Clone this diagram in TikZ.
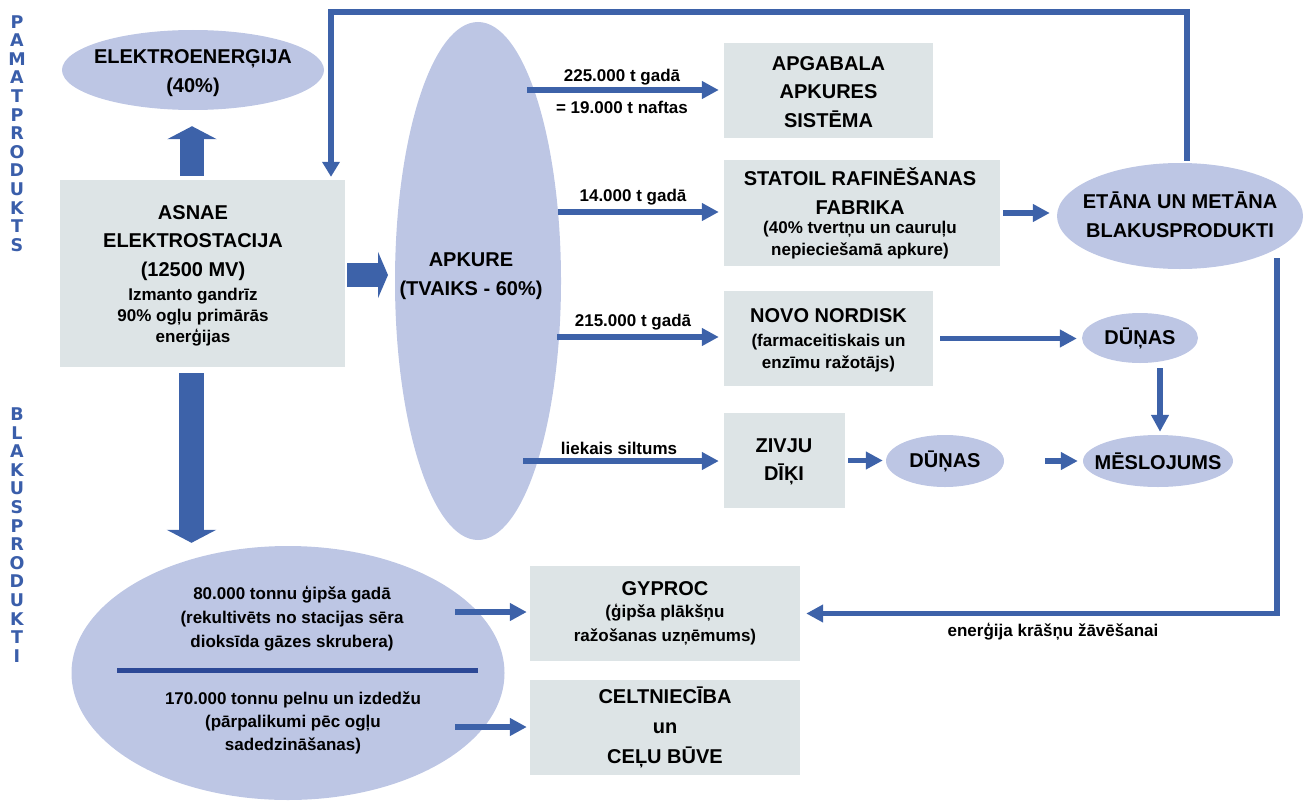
\documentclass[tikz,border=0pt]{standalone}
\usepackage{fontspec}
\setmainfont{Liberation Sans}
\newfontfamily\sidefont{DejaVu Sans}
\usetikzlibrary{shapes.geometric,arrows.meta}
\definecolor{boxfill}{HTML}{DDE4E6}
\definecolor{ovalfill}{HTML}{BDC6E4}
\definecolor{arrowblue}{HTML}{3D62A9}
\definecolor{divblue}{HTML}{2C4896}
\definecolor{sideblue}{HTML}{3A5EAA}
\begin{document}
\begin{tikzpicture}[x=1pt,y=-1pt,
  box/.style={rectangle, fill=boxfill, inner sep=0pt},
  oval/.style={ellipse, fill=ovalfill, inner sep=0pt},
  big/.style={font=\bfseries\fontsize{20}{28.5}\selectfont, align=center, inner sep=0pt},
  small/.style={font=\bfseries\fontsize{17}{22}\selectfont, align=center, inner sep=0pt},
  lbl/.style={font=\bfseries\fontsize{17}{21}\selectfont, inner sep=0pt},
  side/.style={font=\sidefont\bfseries\fontsize{17.5}{18.6}\selectfont, align=center, text=sideblue, inner sep=0pt},
  conn/.style={line width=5.5pt, draw=arrowblue, -{Triangle[length=17pt,width=17pt]}},
  blockarrow/.style={draw=arrowblue, -{Triangle[length=13pt,width=49pt]}},
]
\useasboundingbox (0,0) rectangle (1303,800);

% side labels
\node[side] (sidetop) at (17,133.5) {P\\A\\M\\A\\T\\P\\R\\O\\D\\U\\K\\T\\S};
\node[side] (sidebot) at (17,535) {B\\L\\A\\K\\U\\S\\P\\R\\O\\D\\U\\K\\T\\I};

% shapes
\node[oval, minimum width=262pt, minimum height=80pt] (elec) at (193,70) {};
\node[big] (electxt) at (193,73) {ELEKTROENERĢIJA\\(40\%)};
\node[box, minimum width=285pt, minimum height=187pt] (asnae) at (202.5,273.5) {};
\node[big] (asnaebig) at (193,243) {ASNAE\\ELEKTROSTACIJA\\(12500 MV)};
\node[small, font=\bfseries\fontsize{17}{21}\selectfont] (asnaesmall) at (193,317) {Izmanto gandrīz\\90\% ogļu primārās\\enerģijas};

\node[oval, minimum width=166pt, minimum height=518pt] (apkure) at (478,281) {};
\node[big] (apkuretxt) at (471,276) {APKURE\\(TVAIKS - 60\%)};

\node[box, minimum width=209pt, minimum height=95pt] (apgabala) at (828.5,90.5) {};
\node[big] (apgabalatxt) at (828.5,92) {APGABALA\\APKURES\\SISTĒMA};

\node[box, minimum width=276pt, minimum height=106pt] (statoil) at (862,213) {};
\node[big] (statoilbig) at (860,191) {STATOIL RAFINĒŠANAS\\FABRIKA};
\node[small] (statoilsmall) at (860,240) {(40\% tvertņu un cauruļu\\nepieciešamā apkure)};

\node[box, minimum width=209pt, minimum height=95pt] (novo) at (828.5,338.5) {};
\node[big] (novobig) at (828.5,316) {NOVO NORDISK};
\node[small] (novosmall) at (828.5,353) {(farmaceitiskais un\\enzīmu ražotājs)};

\node[box, minimum width=121pt, minimum height=95pt] (zivju) at (784.5,460.5) {};
\node[big] (zivjutxt) at (784,462) {ZIVJU\\DĪĶI};

\node[oval, minimum width=246pt, minimum height=106pt] (etana) at (1180,216) {};
\node[big] (etanatxt) at (1180,215) {ETĀNA UN METĀNA\\BLAKUSPRODUKTI};
\node[oval, minimum width=116pt, minimum height=50pt] (dunasa) at (1140,338) {};
\node[big] (dunasatxt) at (1140,338) {DŪŅAS};
\node[oval, minimum width=118pt, minimum height=52pt] (dunasb) at (945,461) {};
\node[big] (dunasbtxt) at (945,461) {DŪŅAS};
\node[oval, minimum width=150pt, minimum height=52pt] (mesl) at (1158,461) {};
\node[big] (mesltxt) at (1158,461) {MĒSLOJUMS};

\node[oval, minimum width=433pt, minimum height=254pt] (byprod) at (288,673) {};
\node[small, font=\bfseries\fontsize{17}{24}\selectfont] (byproda) at (292,619) {80.000 tonnu ģipša gadā\\(rekultivēts no stacijas sēra\\dioksīda gāzes skrubera)};
\node[small, font=\bfseries\fontsize{17}{23}\selectfont] (byprodb) at (293,723) {170.000 tonnu pelnu un izdedžu\\(pārpalikumi pēc ogļu\\sadedzināšanas)};
\draw[divblue, line width=5pt] (117,670) -- (478,670);

\node[box, minimum width=270pt, minimum height=95pt] (gyproc) at (665,613.5) {};
\node[big] (gyprocbig) at (665,589) {GYPROC};
\node[small, font=\bfseries\fontsize{17}{24}\selectfont] (gyprocsmall) at (665,625) {(ģipša plākšņu\\ražošanas uzņēmums)};

\node[box, minimum width=270pt, minimum height=95pt] (celt) at (665,727.5) {};
\node[big, font=\bfseries\fontsize{20}{30}\selectfont] (celttxt) at (665,727) {CELTNIECĪBA\\un\\CEĻU BŪVE};

% block arrows
\draw[blockarrow, line width=24pt] ([xshift=-10.5pt,yshift=4pt]asnae.north) -- ([xshift=-1pt,yshift=-16pt]elec.south);
\coordinate (apkin) at (388,275);
\draw[draw=arrowblue, line width=24pt, -{Triangle[length=10pt,width=46pt]}] ([xshift=2pt,yshift=-1.5pt]asnae.east) -- (apkin);
\draw[blockarrow, line width=25pt] ([xshift=-11pt,yshift=-6pt]asnae.south) -- ([xshift=-96.5pt,yshift=3pt]byprod.north);

% thin arrows from APKURE
\coordinate (s1) at (527,90);
\coordinate (s2) at (558,212);
\coordinate (s3) at (557,337);
\coordinate (s4) at (523,461);
\draw[conn] (s1) -- ([xshift=-5pt]apgabala.west |- s1);
\draw[conn] (s2) -- ([xshift=-5pt]statoil.west |- s2);
\draw[conn] (s3) -- ([xshift=-5pt]novo.west |- s3);
\draw[conn] (s4) -- ([xshift=-5pt]zivju.west |- s4);
\node[lbl] (l1) at (622,77) {225.000 t gadā};
\node[lbl] (l2) at (622,107) {= 19.000 t naftas};
\node[lbl] (l3) at (633,197) {14.000 t gadā};
\node[lbl] (l4) at (633,322) {215.000 t gadā};
\node[lbl] (l5) at (619,448) {liekais siltums};

% right side arrows
\draw[conn] ([xshift=3pt]statoil.east) -- ([xshift=-7pt]statoil.east -| etana.west);
\draw[conn] ([xshift=7pt]novo.east) -- ([xshift=-5pt]novo.east -| dunasa.west);
\draw[conn] ([xshift=2pt,yshift=-5pt]dunasa.south -| mesl.north) -- ([xshift=2pt,yshift=3pt]mesl.north);
\draw[conn] ([xshift=3pt]zivju.east) -- ([xshift=-3pt]zivju.east -| dunasb.west);
\draw[conn] ([xshift=41pt]dunasb.east) -- ([xshift=-5pt]mesl.west);

% bottom arrows
\coordinate (b1) at (455,612);
\coordinate (b2) at (455,727);
\draw[conn] (b1) -- ([xshift=-3pt]gyproc.west |- b1);
\draw[conn] (b2) -- ([xshift=-3pt]celt.west |- b2);

% ETANA -> GYPROC
\coordinate (etc) at (1277,258);
\draw[conn] (etc) |- ([xshift=6pt]gyproc.east);
\node[lbl] (l6) at (1053,632) {enerģija krāšņu žāvēšanai};

% top loop
\coordinate (loopc) at (331,12);
\draw[conn, -{Triangle[length=15pt,width=17pt]}] ([xshift=7pt,yshift=2pt]etana.north) |- (loopc) -- ([yshift=3pt]asnae.north -| loopc);
\end{tikzpicture}
\end{document}
